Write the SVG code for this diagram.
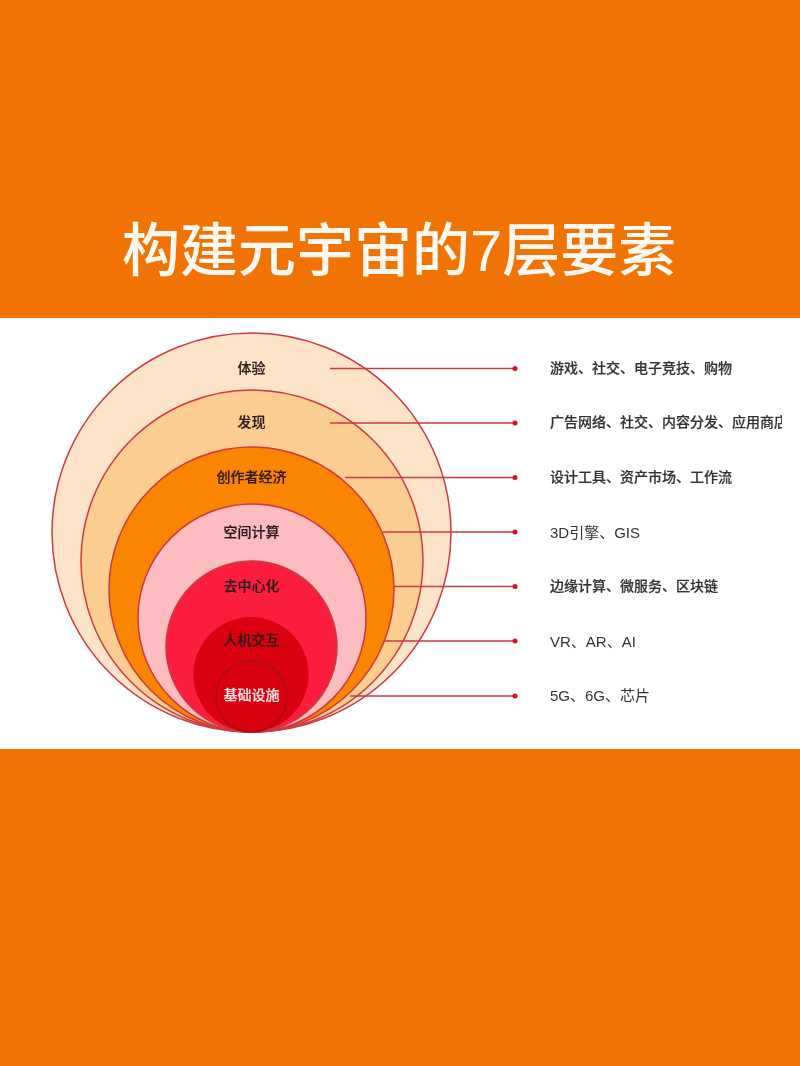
<svg xmlns="http://www.w3.org/2000/svg" width="800" height="1066" viewBox="0 0 800 1066">
<style>
.c{stroke:#cc3a40;stroke-width:1.5}
.l{stroke:#c93a44;stroke-width:1.6;fill:none}
.d{fill:#d3122a}
text{font-family:"Liberation Sans","Noto Sans CJK SC",sans-serif}
.n{font-size:14px;font-weight:500;text-anchor:middle;fill:#2a1a1a;stroke:#2a1a1a;stroke-width:.2}
.t{font-size:14px;font-weight:500;fill:#333;stroke:#333;stroke-width:.2}
.e{font-size:15px;font-weight:400;fill:#333}
</style>
<defs>
<clipPath id="clipRight"><rect x="0" y="318" width="782" height="431"/></clipPath>
<filter id="soft" x="-5%" y="-20%" width="110%" height="140%"><feGaussianBlur stdDeviation="0.45"/></filter>
</defs>
<rect width="800" height="1066" fill="#f07304"/>
<rect x="0" y="318" width="800" height="431" fill="#fff"/>
<text x="122" y="271" font-size="58" fill="#fff8f0" font-weight="500" filter="url(#soft)">构建元宇宙的7层要素</text>
<g id="node-1"><circle class="c" cx="251.500" cy="532.500" r="199.500" fill="#fde4c8"/></g>
<g id="node-2"><circle class="c" cx="252" cy="561" r="171" fill="#fbcd90"/></g>
<g id="node-3"><circle class="c" cx="251.500" cy="589.500" r="142.500" fill="#fb8400"/></g>
<g id="node-4"><circle class="c" cx="252" cy="618" r="114" fill="#fdbcc0"/></g>
<g id="node-5"><circle class="c" cx="251.500" cy="646.500" r="85.500" fill="#fb1c3e"/></g>
<g id="node-6"><circle cx="251" cy="674.500" r="57.500" fill="#d90010"/></g>
<g id="node-7"><circle cx="251.500" cy="696.500" r="35.500" fill="#d90010" stroke="#a80c14" stroke-width="1.500"/></g>
<g id="connectors">
<path class="l" d="M330 368.500H515M330 423H515M345 477.500H515M383 532H515M394 586.500H515M385 641H515M350 696H515"/>
<circle class="d" cx="515" cy="368.500" r="2.500"/><circle class="d" cx="515" cy="423" r="2.500"/><circle class="d" cx="515" cy="477.500" r="2.500"/><circle class="d" cx="515" cy="532" r="2.500"/><circle class="d" cx="515" cy="586.500" r="2.500"/><circle class="d" cx="515" cy="641" r="2.500"/><circle class="d" cx="515" cy="696" r="2.500"/>
</g>
<g filter="url(#soft)">
<text class="n" x="251.500" y="372.500">体验</text>
<text class="n" x="251.500" y="427">发现</text>
<text class="n" x="251.500" y="482">创作者经济</text>
<text class="n" x="251.500" y="536.500">空间计算</text>
<text class="n" x="251.500" y="591">去中心化</text>
<text class="n" x="251.500" y="645">人机交互</text>
<text class="n" x="251.500" y="700" style="fill:#fbe4e4;stroke:#fbe4e4">基础设施</text>
<text class="t" x="550" y="372.500">游戏、社交、电子竞技、购物</text>
<text class="t" x="550" y="427" clip-path="url(#clipRight)">广告网络、社交、内容分发、应用商店</text>
<text class="t" x="550" y="482">设计工具、资产市场、工作流</text>
<text class="e" x="550" y="537.500">3D引擎、GIS</text>
<text class="t" x="550" y="591">边缘计算、微服务、区块链</text>
<text class="e" x="550" y="646.500">VR、AR、AI</text>
<text class="e" x="550" y="700.500">5G、6G、芯片</text>
</g>
</svg>
